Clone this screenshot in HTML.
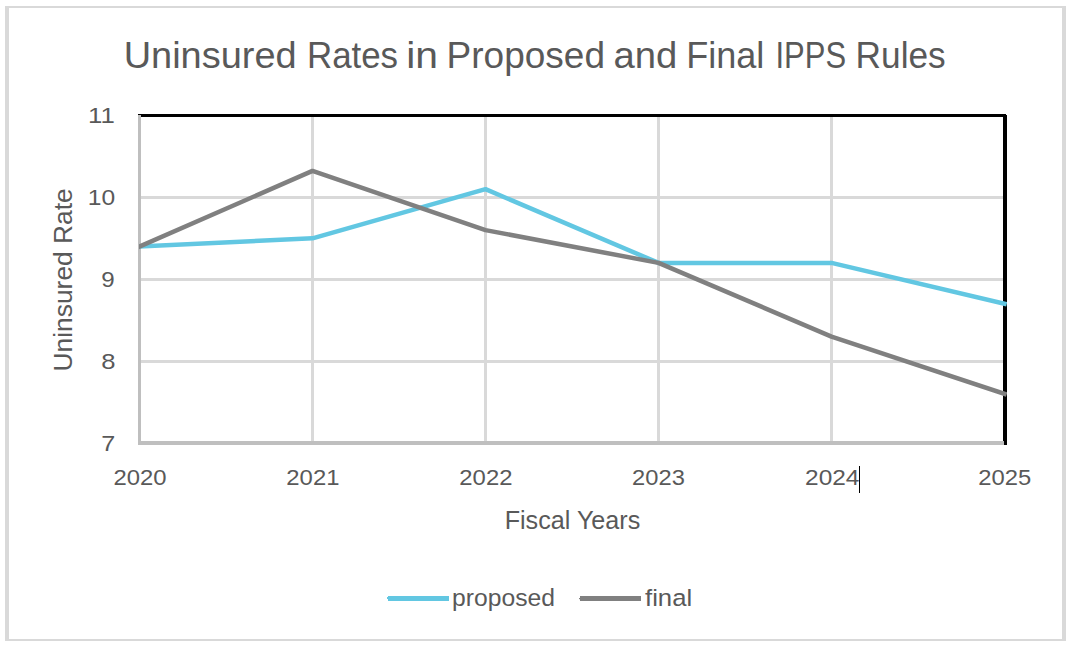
<!DOCTYPE html>
<html>
<head>
<meta charset="utf-8">
<style>
html,body{margin:0;padding:0;background:#fff;width:1072px;height:647px;overflow:hidden;}
svg{display:block;}
text{font-family:"Liberation Sans", sans-serif;fill:#595959;}
</style>
</head>
<body>
<svg width="1072" height="647" viewBox="0 0 1072 647">
  <defs>
    <clipPath id="plot"><rect x="139" y="100" width="868" height="360"/></clipPath>
  </defs>
  <rect x="0" y="0" width="1072" height="647" fill="#fff"/>
  <g fill="#d9d9d9">
    <rect x="5" y="6" width="1061" height="2"/>
    <rect x="5" y="639" width="1061" height="2"/>
    <rect x="5" y="6" width="4" height="635"/>
    <rect x="1062" y="6" width="4" height="635"/>
  </g>
  <g fill="#d9d9d9">
    <rect x="141" y="196" width="862" height="3"/>
    <rect x="141" y="278" width="862" height="3"/>
    <rect x="141" y="360" width="862" height="3"/>
    <rect x="311" y="117" width="3" height="324"/>
    <rect x="484" y="117" width="3" height="324"/>
    <rect x="657" y="117" width="3" height="324"/>
    <rect x="830" y="117" width="3" height="324"/>
  </g>
  <rect x="138" y="114" width="868" height="3" fill="#000"/>
  <rect x="1003" y="115" width="4" height="330" fill="#000"/>
  <rect x="138" y="115" width="3" height="330" fill="#bfbfbf"/>
  <rect x="138" y="441" width="866" height="4" fill="#bfbfbf"/>
  <g clip-path="url(#plot)" fill="none" stroke-width="4.5" stroke-linejoin="round" stroke-linecap="square">
    <polyline stroke="#62c7e2" points="139.50,246.50 312.50,238.31 485.50,189.19 658.50,262.88 831.50,262.88 1004.50,303.81"/>
    <polyline stroke="#808080" points="139.50,246.50 312.50,170.90 485.50,230.13 658.50,262.88 831.50,336.56 1004.50,393.88"/>
  </g>
  <rect x="859" y="466" width="1" height="27" fill="#000"/>
  <rect x="388" y="596" width="61" height="5" fill="#62c7e2"/>
  <rect x="387" y="597" width="1" height="2" fill="#62c7e2"/>
  <rect x="580" y="596" width="61" height="5" fill="#808080"/>
  <rect x="579" y="598" width="1" height="1.2" fill="#808080"/>
  <text transform="translate(123.67,68.00) scale(1.0398,1)" font-size="36.5">Uninsured</text>
  <text transform="translate(306.95,68.00) scale(0.9557,1)" font-size="36.5">Rates</text>
  <text transform="translate(406.16,68.00) scale(1.1194,1)" font-size="36.5">in</text>
  <text transform="translate(446.55,68.00) scale(1.0146,1)" font-size="36.5">Proposed</text>
  <text transform="translate(613.50,68.00) scale(1.0477,1)" font-size="36.5">and</text>
  <text transform="translate(686.22,68.00) scale(0.9881,1)" font-size="36.5">Final</text>
  <text transform="translate(775.45,68.00) scale(0.8492,1)" font-size="36.5">IPPS</text>
  <text transform="translate(855.61,68.00) scale(0.9659,1)" font-size="36.5">Rules</text>
  <text transform="translate(87.97,123.10) scale(1.1448,1)" font-size="22.5">11</text>
  <text transform="translate(87.81,204.90) scale(1.0942,1)" font-size="22.5">10</text>
  <text transform="translate(101.23,286.90) scale(1.0730,1)" font-size="22.5">9</text>
  <text transform="translate(101.19,368.90) scale(1.1384,1)" font-size="22.5">8</text>
  <text transform="translate(101.15,450.90) scale(1.1232,1)" font-size="22.5">7</text>
  <text transform="translate(113.52,484.90) scale(1.0620,1)" font-size="22.5">2020</text>
  <text transform="translate(286.33,484.90) scale(1.0614,1)" font-size="22.5">2021</text>
  <text transform="translate(459.34,484.90) scale(1.0606,1)" font-size="22.5">2022</text>
  <text transform="translate(632.11,484.90) scale(1.0534,1)" font-size="22.5">2023</text>
  <text transform="translate(805.07,484.90) scale(1.0864,1)" font-size="22.5">2024</text>
  <text transform="translate(978.30,484.90) scale(1.0586,1)" font-size="22.5">2025</text>
  <text transform="translate(504.64,529.00) scale(0.9683,1)" font-size="26">Fiscal Years</text>
  <text transform="translate(452.11,606.00) scale(1.0504,1)" font-size="23.5">proposed</text>
  <text transform="translate(645.00,606.00) scale(1.0936,1)" font-size="23.5">final</text>
  <text transform="translate(72.00,371.43) rotate(-90) scale(1.0142,1)" font-size="26">Uninsured Rate</text>
</svg>
</body>
</html>
